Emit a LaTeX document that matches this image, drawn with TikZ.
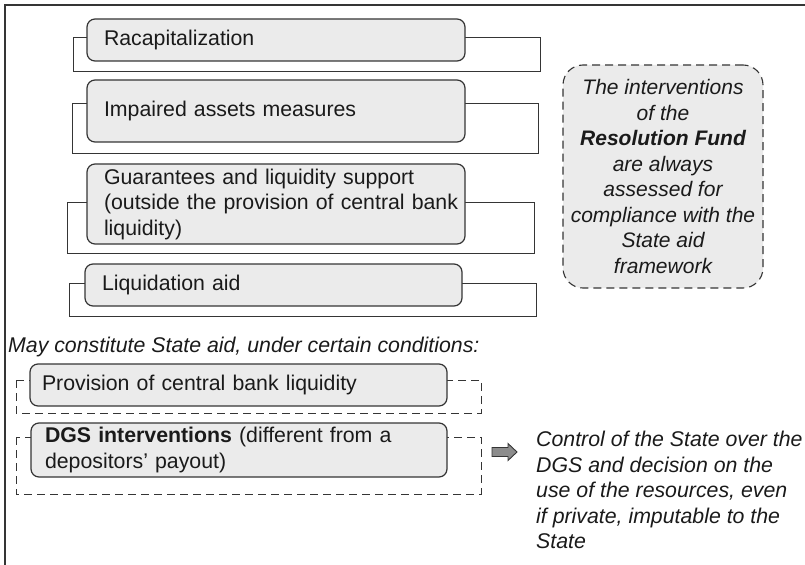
\documentclass[tikz,border=0pt]{standalone}
\usepackage{fontspec}
\setmainfont{Liberation Sans}
\definecolor{edge}{HTML}{353535}
\definecolor{boxfill}{HTML}{EBEBEB}
\definecolor{ink}{HTML}{1A1A1A}
\definecolor{arrowfill}{HTML}{8C8C8C}
\tikzset{
  txt/.style={font=\fontsize{21.3bp}{25.5bp}\selectfont, text=ink},
  itembox/.style={txt, draw=edge, line width=1.2bp, fill=boxfill, rounded corners=8bp,
    anchor=north west, align=left, inner ysep=0bp, outer sep=0bp},
  bracket/.style={draw=edge, line width=0.9bp},
  dbracket/.style={draw=edge, line width=0.9bp, dash pattern=on 8bp off 5bp},
  frame/.style={draw=edge, line width=2bp},
  notebox/.style={txt, font=\fontsize{21bp}{25.5bp}\selectfont\itshape, draw=edge,
    line width=1.1bp, dash pattern=on 8bp off 5bp, fill=boxfill, rounded corners=20bp,
    align=center, minimum width=200bp, minimum height=223bp, inner sep=0bp},
  plain/.style={txt, font=\fontsize{21.3bp}{25.5bp}\selectfont\itshape, align=left, inner sep=0bp},
  blockarrow/.style={draw=edge, line width=0.9bp, fill=arrowfill, line join=miter},
}
\begin{document}
\begin{tikzpicture}[x=1bp,y=-1bp]
\useasboundingbox (0,0) rectangle (805,565);

% outer frame: top and left rules
\coordinate (fb) at (5,565);
\coordinate (fc) at (5,5);
\coordinate (fr) at (805,5);
\draw[frame] (fb) -- (fc) -- (fr);

% brackets behind the state-aid measures
\coordinate (r1) at (73,37);  \coordinate (r2) at (540,71);
\coordinate (i1) at (72,103); \coordinate (i2) at (538,153);
\coordinate (g1) at (67,202); \coordinate (g2) at (534,253);
\coordinate (l1) at (69,283); \coordinate (l2) at (536,316);
\draw[bracket] (r1) rectangle (r2);
\draw[bracket] (i1) rectangle (i2);
\draw[bracket] (g1) rectangle (g2);
\draw[bracket] (l1) rectangle (l2);

% dashed brackets for the conditional cases
\coordinate (p1) at (16,380); \coordinate (p2) at (481,413);
\coordinate (d1) at (16,437); \coordinate (d2) at (481,494);
\draw[dbracket] (p1) rectangle (p2);
\draw[dbracket] (d1) rectangle (d2);

% measures
\node[itembox, inner xsep=17bp, text width=344bp, minimum height=42bp] (recap) at (87,19)
  {Racapitalization};
\node[itembox, inner xsep=17bp, text width=344bp, minimum height=62bp] (impaired) at (87,80)
  {Impaired assets measures};
\node[itembox, inner xsep=17bp, text width=344bp, minimum height=80bp] (guar) at (87,164)
  {Guarantees and liquidity support\\\mbox{(outside the provision of central bank}\\liquidity)};
\node[itembox, inner xsep=17bp, text width=343bp, minimum height=42bp] (liq) at (85,264)
  {Liquidation aid};

\node[plain, anchor=west] (may) at (8,347) {May constitute State aid, under certain conditions:};

\node[itembox, inner xsep=12bp, text width=393bp, minimum height=42bp] (prov) at (30,364)
  {Provision of central bank liquidity};
\node[itembox, inner xsep=14bp, text width=388bp, minimum height=54bp] (dgs) at (31,423)
  {\textbf{DGS interventions} (different from a\\depositors’ payout)};

% note on the Resolution Fund
\node[notebox] (note) at (663,176.5)
  {The interventions\\of the\\\textbf{Resolution Fund}\\are always\\assessed for\\compliance with the\\State aid\\framework};

% consequence for DGS interventions
\coordinate (arr) at (492,452);
\draw[blockarrow] (arr) ++(0,-4.5) -- ++(16,0) -- ++(0,-4) -- ++(9,8.5) -- ++(-9,8.5)
  -- ++(0,-4) -- ++(-16,0) -- cycle;
\node[plain, anchor=west] (ctrl) at (536,490)
  {Control of the State over the\\DGS and decision on the\\use of the resources, even\\if private, imputable to the\\State};
\end{tikzpicture}
\end{document}
